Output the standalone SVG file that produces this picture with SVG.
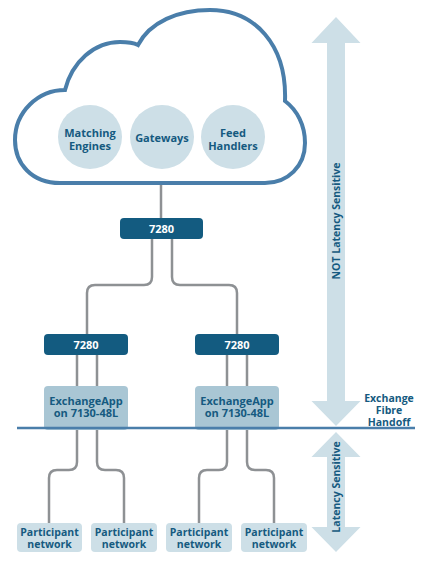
<svg xmlns="http://www.w3.org/2000/svg" width="435" height="565" viewBox="0 0 435 565">
<style>
text{font-family:"Open Sans","Noto Sans","Liberation Sans",sans-serif;font-weight:bold;text-anchor:middle}
.lbl{font-size:11px;fill:#155a80}
.sm{font-size:10.5px;fill:#155a80}
.w{font-size:11px;fill:#ffffff}
.side{font-size:10.5px;fill:#155a80}
.dark{fill:#135b80}
.mid{fill:#a9c6d4}
.light{fill:#cddfe7}
.conn{fill:none;stroke:#8e9194;stroke-width:2.5}
</style>
<rect width="435" height="565" fill="#ffffff"/>
<g id="arrows">
<polygon class="light" points="336,17 360.5,43 345,43 345,401 360.5,401 336,426 311.5,401 327,401 327,43 311.5,43"/>
<polygon class="light" points="336,432 360.5,457 345,457 345,527 360.5,527 336,552 311.5,527 327,527 327,457 311.5,457"/>
<text class="side" transform="translate(340,221) rotate(-90)">NOT Latency Sensitive</text>
<text class="side" transform="translate(340,487) rotate(-90)">Latency Sensitive</text>
</g>
<g id="connectors">
<path class="conn" d="M161,180 V218"/>
<path class="conn" d="M152,239 V277 Q152,285 144,285 H95 Q87,285 87,293 V334"/>
<path class="conn" d="M172,239 V277 Q172,285 180,285 H229 Q237,285 237,293 V334"/>
<path class="conn" d="M77,355 V386 M97,355 V386 M227,355 V386 M247,355 V386"/>
<path class="conn" d="M77,428 V462 Q77,470 69,470 H57 Q49,470 49,478 V523"/>
<path class="conn" d="M97,428 V462 Q97,470 105,470 H116 Q124,470 124,478 V523"/>
<path class="conn" d="M227,428 V462 Q227,470 219,470 H207 Q199,470 199,478 V523"/>
<path class="conn" d="M247,428 V462 Q247,470 255,470 H266 Q274,470 274,478 V523"/>
</g>
<g id="cloud">
<path d="M60,183 C32,183 15,164 15,140 C15,112 38,90 65,90 C72,62 94,42 120,42 C128,42 134,43 138,45 C150,22 178,10 210,10 C255,10 287,45 285,101 C297,110 305,125 305,143 C305,166 288,183 265,183 Z" fill="#ffffff" stroke="#4a7eaa" stroke-width="4"/>
</g>
<g id="matching">
<circle class="light" cx="90" cy="137" r="32"/>
<text class="lbl" x="90" y="137">Matching</text>
<text class="lbl" x="90" y="150">Engines</text>
</g>
<g id="gateways">
<circle class="light" cx="162" cy="137" r="32"/>
<text class="lbl" x="162" y="142">Gateways</text>
</g>
<g id="feed">
<circle class="light" cx="233" cy="137" r="32"/>
<text class="lbl" x="233" y="137">Feed</text>
<text class="lbl" x="233" y="150">Handlers</text>
</g>
<g id="sw-top">
<rect class="dark" x="120" y="218" width="83" height="21" rx="4"/>
<text class="w" x="161.5" y="233">7280</text>
</g>
<g id="sw-left">
<rect class="dark" x="44" y="334" width="84" height="21" rx="4"/>
<text class="w" x="86" y="349">7280</text>
</g>
<g id="sw-right">
<rect class="dark" x="195" y="334" width="84" height="21" rx="4"/>
<text class="w" x="237" y="349">7280</text>
</g>
<g id="app-left">
<rect class="mid" x="44" y="386" width="84" height="44" rx="4"/>
<text class="lbl" x="86" y="404.5">ExchangeApp</text>
<text class="lbl" x="86" y="417">on 7130-48L</text>
</g>
<g id="app-right">
<rect class="mid" x="195" y="386" width="84" height="44" rx="4"/>
<text class="lbl" x="237" y="404.5">ExchangeApp</text>
<text class="lbl" x="237" y="417">on 7130-48L</text>
</g>
<g id="handoff">
<line x1="17" y1="428" x2="415" y2="428" stroke="#4a7eaa" stroke-width="2.5"/>
<text class="side" x="389" y="402">Exchange</text>
<text class="side" x="389" y="414">Fibre</text>
<text class="side" x="389" y="426">Handoff</text>
</g>
<g id="p1">
<rect class="light" x="17" y="523" width="65" height="29" rx="4"/>
<text class="sm" x="49.5" y="536">Participant</text>
<text class="sm" x="49.5" y="548">network</text>
</g>
<g id="p2">
<rect class="light" x="91" y="523" width="66" height="29" rx="4"/>
<text class="sm" x="124" y="536">Participant</text>
<text class="sm" x="124" y="548">network</text>
</g>
<g id="p3">
<rect class="light" x="166" y="523" width="66" height="29" rx="4"/>
<text class="sm" x="199" y="536">Participant</text>
<text class="sm" x="199" y="548">network</text>
</g>
<g id="p4">
<rect class="light" x="241" y="523" width="66" height="29" rx="4"/>
<text class="sm" x="274" y="536">Participant</text>
<text class="sm" x="274" y="548">network</text>
</g>
</svg>
